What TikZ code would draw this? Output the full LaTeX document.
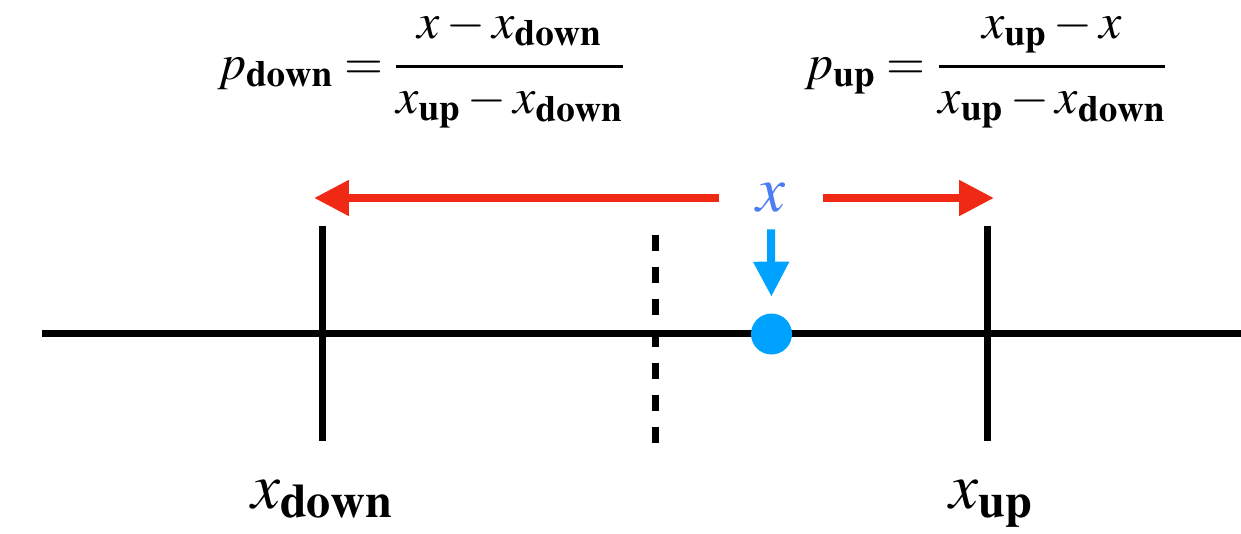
\documentclass[tikz,border=0pt]{standalone}
\usepackage{amsmath}
\usepackage{mathptmx}
\usepackage{xcolor}
\definecolor{arrowred}{HTML}{EF2914}
\definecolor{dotblue}{HTML}{00A2FF}
\definecolor{xblue}{HTML}{4C7EF3}
\usepackage{tikz}
\usetikzlibrary{arrows.meta}
\newcommand{\probfrac}[2]{\genfrac{}{}{2pt}{0}{#1\rule[-0.32em]{0pt}{0pt}}{\rule{0pt}{0.62em}#2}}

\begin{document}
\begin{tikzpicture}[x=0.02cm, y=-0.02cm,
    axisline/.style={line width=0.14cm, black},
    moveline/.style={line width=0.16cm, arrowred, -{Triangle[length=0.7cm, width=0.68cm]}},
    hitline/.style={line width=0.16cm, dotblue, -{Triangle[length=0.7cm, width=0.68cm]}},
    formula/.style={anchor=base, inner sep=0pt, font=\fontsize{28.5}{34}\selectfont},
    bigmath/.style={anchor=base, inner sep=0pt, font=\fontsize{37}{44}\selectfont}]
  \useasboundingbox (0,0) rectangle (1241,534);
  % formulas
  \node[formula] (fml-down) at (421,79)
    {$p_{\mathbf{down}} = \probfrac{x - x_{\mathbf{down}}}{x_{\mathbf{up}} - x_{\mathbf{down}}}$};
  \node[formula] (fml-up) at (986,79)
    {$p_{\mathbf{up}} = \probfrac{x_{\mathbf{up}} - x}{x_{\mathbf{up}} - x_{\mathbf{down}}}$};
  % number line
  \coordinate (axis-l) at (42,333);
  \coordinate (axis-r) at (1241,333);
  \draw[axisline] (axis-l) -- (axis-r);
  \foreach \name/\x in {down/322, up/987}{
    \coordinate (tick-\name-t) at (\x,226);
    \coordinate (tick-\name-b) at (\x,441);
    \draw[axisline] (tick-\name-t) -- (tick-\name-b);
  }
  \coordinate (mid-t) at (655,235);
  \coordinate (mid-b) at (655,443);
  \draw[axisline, dash pattern=on 0.32cm off 0.32cm] (mid-t) -- (mid-b);
  % bounds
  \node[bigmath] (lbl-down) at (322,508) {$x_{\mathbf{down}}$};
  \node[bigmath] (lbl-up) at (991,508) {$x_{\mathbf{up}}$};
  % the point x
  \node[circle, fill=dotblue, minimum size=0.82cm, inner sep=0pt] (dot) at (771.5,334) {};
  \node[inner sep=0pt, minimum width=2.06cm, minimum height=1.24cm,
        text=xblue, font=\fontsize{37}{44}\selectfont] (xlab) at (771,198) {$x$};
  \coordinate (tip-down) at (314,198);
  \coordinate (tip-up) at (994,198);
  \draw[moveline] (xlab.west) -- (tip-down);
  \draw[moveline] (xlab.east) -- (tip-up);
  \draw[hitline, shorten >=0.33cm] (xlab.south) -- (dot.north);
\end{tikzpicture}
\end{document}
